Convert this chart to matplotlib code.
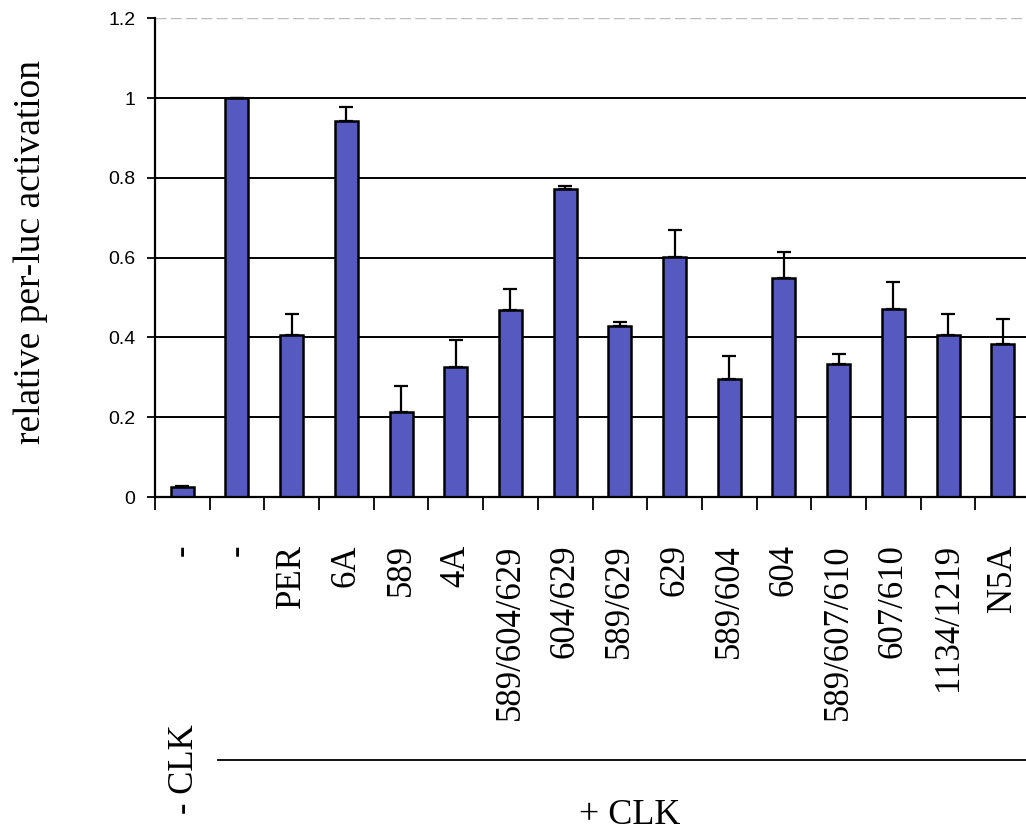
import matplotlib

matplotlib.use("Agg")

from matplotlib import pyplot as plt
from matplotlib.lines import Line2D
import numpy as np

labels = ["-", "-", "PER", "6A", "589", "4A", "589/604/629", "604/629", "589/629",
          "629", "589/604", "604", "589/607/610", "607/610", "1134/1219", "N5A"]
values = [0.026, 1.0, 0.407, 0.943, 0.214, 0.325, 0.470, 0.771, 0.428,
          0.602, 0.296, 0.550, 0.333, 0.472, 0.405, 0.384]
err_top = [0.028, 1.0, 0.460, 0.977, 0.279, 0.394, 0.522, 0.780, 0.439,
           0.670, 0.354, 0.614, 0.358, 0.540, 0.458, 0.447]
y_ticks = [0, 0.2, 0.4, 0.6, 0.8, 1.0, 1.2]
y_tick_labels = ["0", "0.2", "0.4", "0.6", "0.8", "1", "1.2"]

serif = "Liberation Serif"
sans = "Liberation Sans"

fig = plt.figure(figsize=(10.26, 8.32), dpi=100)
ax = fig.add_axes([0.151, 0.4026, 0.853, 0.5754])

x = np.arange(len(values))
vals = np.array(values)
errs = np.array(err_top) - vals

# gridlines drawn below bars
for yv in y_ticks[1:-1]:
    ax.axhline(yv, color="black", linewidth=1.4, zorder=1)
ax.axhline(1.2, color="#bbbbbb", linewidth=1.0, linestyle=(0, (8, 3)), zorder=1)

ax.bar(x, vals, width=0.42, color="#5659c0", edgecolor="black", linewidth=1.8, zorder=2)
ax.errorbar(x, vals, yerr=[np.zeros_like(errs), errs], fmt="none", ecolor="black",
            elinewidth=1.6, capsize=5, capthick=1.6, zorder=3)

ax.set_xlim(-0.5, len(values) - 0.5)
ax.set_ylim(0, 1.2)
ax.set_xticks(np.arange(len(values) + 1) - 0.5)
ax.set_xticklabels([])
ax.tick_params(axis="x", direction="out", length=9, width=1.3)
ax.set_xticks(x, minor=True)
ax.set_xticklabels(labels, minor=True, rotation=90, fontfamily=serif, fontsize=25,
                   va="top", ha="center")
ax.tick_params(axis="x", which="minor", length=0, pad=34)

ax.set_yticks(y_ticks)
ax.set_yticklabels(y_tick_labels, fontfamily=sans, fontsize=14)
ax.tick_params(axis="y", direction="out", length=6, width=1.3, pad=8)

for side in ("top", "right"):
    ax.spines[side].set_visible(False)
ax.spines["left"].set_linewidth(1.6)
ax.spines["bottom"].set_linewidth(1.6)

fig.text(0.03, 0.697, "relative per-luc activation", rotation=90, fontfamily=serif,
         fontsize=27, ha="center", va="center")

fig.text(0.18, 0.075, "- CLK", rotation=90, fontfamily=serif, fontsize=25,
         ha="center", va="center")
fig.add_artist(Line2D([0.2125, 1.0], [0.0865, 0.0865], color="black", linewidth=1.3,
                      transform=fig.transFigure))
fig.text(0.614, 0.02, "+ CLK", fontfamily=serif, fontsize=26, ha="center", va="center")

fig.savefig("out.png", dpi=100)
plt.close(fig)
